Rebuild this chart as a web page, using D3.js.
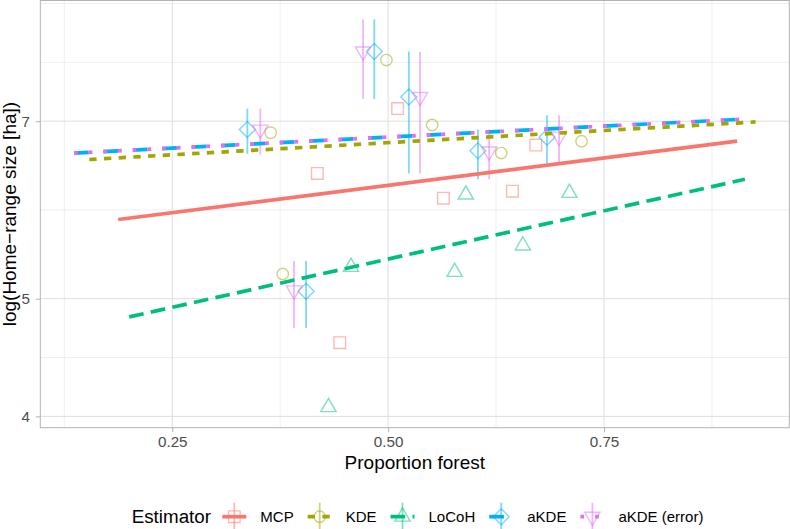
<!DOCTYPE html>
<html lang="en">
<head>
  <meta charset="UTF-8">
  <title>Home-range size vs proportion forest</title>
  <script src="https://d3js.org/d3.v7.min.js"></script>
  <style>
    body {
      margin: 0;
      padding: 0;
      background-color: #ffffff;
    }
    svg {
      display: block;
      font-family: "Liberation Sans", Arial, sans-serif;
    }
  </style>
</head>
<body>

  <svg id="chart" width="790" height="529"></svg>

  <script>
    // estimators, in legend order
    const estimators = ["MCP", "KDE", "LoCoH", "aKDE", "aKDE (error)"];
    const colors = ["#F8766D", "#A3A500", "#00BF7D", "#00B0F6", "#E76BF3"];
    const shapes = ["square", "circle", "triangleUp", "diamond", "triangleDown"];

    // points (proportion forest, home-range size)
    const mcpX = [0.418, 0.444, 0.511, 0.564, 0.644, 0.671];
    const mcpY = [6.34, 4.60, 7.17, 6.05, 6.13, 6.69];
    const kdeX = [0.364, 0.378, 0.498, 0.551, 0.631, 0.724];
    const kdeY = [6.85, 5.24, 7.86, 6.95, 6.59, 6.74];
    const locohX = [0.431, 0.457, 0.577, 0.590, 0.656, 0.710];
    const locohY = [4.07, 5.31, 5.26, 6.09, 5.53, 6.11];
    const akdeX = [0.337, 0.405, 0.484, 0.524, 0.604, 0.684];
    const akdeY = [6.89, 5.07, 7.99, 7.33, 6.62, 6.79];
    const akdeLo = [6.58, 4.73, 7.30, 6.34, 6.27, 6.46];
    const akdeHi = [7.17, 5.37, 8.49, 7.99, 6.89, 7.08];
    const akdeErrX = [0.352, 0.391, 0.471, 0.537, 0.617, 0.698];
    const akdeErrY = [6.89, 5.08, 7.99, 7.33, 6.61, 6.80];
    const akdeErrLo = [6.57, 4.73, 7.30, 6.34, 6.27, 6.48];
    const akdeErrHi = [7.17, 5.37, 8.49, 7.98, 6.89, 7.08];

    // fitted lines (start and end)
    const mcpFitX = [0.1875, 0.9042];
    const mcpFitY = [5.81, 6.74];
    const kdeFitX = [0.1539, 0.9255];
    const kdeFitY = [6.51, 6.99];
    const locohFitX = [0.2002, 0.9132];
    const locohFitY = [4.83, 6.27];
    const akdeFitX = [0.1362, 0.915];
    const akdeFitY = [6.59, 7.03];
    const akdeErrFitX = [0.1362, 0.915];
    const akdeErrFitY = [6.59, 7.03];

    // axis ticks
    const xTicks = [0.25, 0.5, 0.75];
    const yTicks = [4, 5, 7];

    const series = [
      { xs: mcpX, ys: mcpY, fx: mcpFitX, fy: mcpFitY },
      { xs: kdeX, ys: kdeY, fx: kdeFitX, fy: kdeFitY },
      { xs: locohX, ys: locohY, fx: locohFitX, fy: locohFitY },
      { xs: akdeX, ys: akdeY, lo: akdeLo, hi: akdeHi, fx: akdeFitX, fy: akdeFitY },
      { xs: akdeErrX, ys: akdeErrY, lo: akdeErrLo, hi: akdeErrHi, fx: akdeErrFitX, fy: akdeErrFitY }
    ].map((s, i) => Object.assign(s, { name: estimators[i], color: colors[i], shape: shapes[i] }));

    // line styles (ggplot linetypes solid, 22, 42, 44, 13)
    const lineWidth = 3.7;
    const u = 3.68;
    const dashes = [null, [2 * u, 2 * u], [4 * u, 2 * u], [4 * u, 4 * u], [u, 3 * u]].map(d => d && d.join(","));

    const panel = { left: 40.3, right: 789.3, top: 0.5, bottom: 427.7 };

    const x = d3.scaleLinear()
      .domain([0.0972, 0.9646])
      .range([panel.left, panel.right]);

    const y = d3.scaleLog()
      .domain([3.915, 8.80])
      .range([panel.bottom, panel.top]);

    const svg = d3.select("#chart");

    // minor breaks like ggplot: midpoints between majors, one step past the ends
    function minorBreaks(major, f, inv, dom) {
      const b = major.map(f);
      const bd = b[1] - b[0];
      const ext = [b[0] - bd].concat(b, [b[b.length - 1] + bd]);
      const out = [];
      for (let i = 0; i < ext.length - 1; i++) out.push((ext[i] + ext[i + 1]) / 2);
      out.push(ext[0], ext[ext.length - 1]);
      return out.map(inv).filter(v => v >= dom[0] && v <= dom[1]);
    }

    const xMinor = minorBreaks(xTicks, d => d, d => d, x.domain());
    const yMinor = minorBreaks(yTicks, Math.log, Math.exp, y.domain());

    const grid = svg.append("g");

    grid.selectAll(".xminor").data(xMinor).enter().append("line")
      .attr("x1", d => x(d)).attr("x2", d => x(d))
      .attr("y1", panel.top).attr("y2", panel.bottom)
      .attr("stroke", "#DEDEDE").attr("stroke-width", 0.5);

    grid.selectAll(".yminor").data(yMinor).enter().append("line")
      .attr("x1", panel.left).attr("x2", panel.right)
      .attr("y1", d => y(d)).attr("y2", d => y(d))
      .attr("stroke", "#DEDEDE").attr("stroke-width", 0.5);

    grid.selectAll(".xmajor").data(xTicks).enter().append("line")
      .attr("x1", d => x(d)).attr("x2", d => x(d))
      .attr("y1", panel.top).attr("y2", panel.bottom)
      .attr("stroke", "#DEDEDE").attr("stroke-width", 1);

    grid.selectAll(".ymajor").data(yTicks).enter().append("line")
      .attr("x1", panel.left).attr("x2", panel.right)
      .attr("y1", d => y(d)).attr("y2", d => y(d))
      .attr("stroke", "#DEDEDE").attr("stroke-width", 1);

    // point shapes (R pch 0, 1, 2, 5, 6)
    function shapePath(shape) {
      const p = d3.path();
      if (shape === "square") {
        p.rect(-5.8, -5.8, 11.6, 11.6);
      } else if (shape === "circle") {
        p.arc(0, 0, 5.7, 0, 2 * Math.PI);
      } else if (shape === "diamond") {
        const d = 8;
        p.moveTo(0, -d); p.lineTo(d, 0); p.lineTo(0, d); p.lineTo(-d, 0); p.closePath();
      } else {
        const r = 8.8, s = shape === "triangleUp" ? 1 : -1;
        p.moveTo(0, -r * s);
        p.lineTo(r * 0.866, r / 2 * s);
        p.lineTo(-r * 0.866, r / 2 * s);
        p.closePath();
      }
      return p.toString();
    }

    // points
    series.forEach(s => {
      svg.append("g").selectAll("path")
        .data(s.xs.map((v, i) => [v, s.ys[i]]))
        .enter().append("path")
        .attr("d", shapePath(s.shape))
        .attr("transform", d => `translate(${x(d[0])},${y(d[1])})`)
        .attr("fill", "none")
        .attr("stroke", s.color)
        .attr("stroke-opacity", 0.5)
        .attr("stroke-width", 1.4);
    });

    // error bars
    series.filter(s => s.lo).forEach(s => {
      svg.append("g").selectAll("line")
        .data(s.xs.map((v, i) => [v, s.lo[i], s.hi[i]]))
        .enter().append("line")
        .attr("x1", d => x(d[0])).attr("x2", d => x(d[0]))
        .attr("y1", d => y(d[1])).attr("y2", d => y(d[2]))
        .attr("stroke", s.color)
        .attr("stroke-opacity", 0.5)
        .attr("stroke-width", 1.8);
    });

    // fitted lines
    const line = d3.line().x(d => x(d[0])).y(d => y(d[1]));
    series.forEach((s, i) => {
      svg.append("path")
        .datum(s.fx.map((v, j) => [v, s.fy[j]]))
        .attr("d", line)
        .attr("fill", "none")
        .attr("stroke", s.color)
        .attr("stroke-width", lineWidth)
        .attr("stroke-dasharray", dashes[i]);
    });

    // panel border
    svg.append("rect")
      .attr("x", panel.left).attr("y", panel.top)
      .attr("width", panel.right - panel.left)
      .attr("height", panel.bottom - panel.top)
      .attr("fill", "none")
      .attr("stroke", "#B3B3B3")
      .attr("stroke-width", 1);

    // axes
    const yAxis = svg.append("g")
      .attr("transform", `translate(${panel.left},0)`)
      .call(d3.axisLeft(y).tickValues(yTicks).tickFormat(d3.format("d")).tickSize(4.5).tickPadding(5.8));

    const xAxis = svg.append("g")
      .attr("transform", `translate(0,${panel.bottom})`)
      .call(d3.axisBottom(x).tickValues(xTicks).tickFormat(d3.format(".2f")).tickSize(4.5).tickPadding(4));

    [xAxis, yAxis].forEach(a => {
      a.select(".domain").remove();
      a.selectAll(".tick line").attr("stroke", "#B3B3B3");
      a.selectAll(".tick text")
        .attr("fill", "#4D4D4D")
        .style("font-size", "15.2px")
        .style("font-family", "'Liberation Sans', Arial, sans-serif");
    });

    // axis titles
    svg.append("text")
      .attr("x", (panel.left + panel.right) / 2)
      .attr("y", 469)
      .attr("text-anchor", "middle")
      .style("font-size", "19px")
      .text("Proportion forest");

    svg.append("text")
      .attr("transform", `translate(15.5,${(panel.top + panel.bottom) / 2}) rotate(-90)`)
      .attr("text-anchor", "middle")
      .style("font-size", "19px")
      .text("log(Home\u2212range size [ha])");

    // legend
    const legend = svg.append("g");
    const keyY = 516.7;

    const title = legend.append("text")
      .attr("x", 131.7)
      .attr("y", 523)
      .style("font-size", "18.8px")
      .text("Estimator");

    let keyX = 131.7 + title.node().getComputedTextLength() + 23.3;

    series.forEach((s, i) => {
      const key = legend.append("g").attr("transform", `translate(${keyX},${keyY})`);

      key.append("path")
        .attr("d", shapePath(s.shape))
        .attr("fill", "none")
        .attr("stroke", s.color)
        .attr("stroke-opacity", 0.5)
        .attr("stroke-width", 1.4);

      key.append("line")
        .attr("x1", 0).attr("x2", 0)
        .attr("y1", -14).attr("y2", 14)
        .attr("stroke", s.color)
        .attr("stroke-opacity", 0.5)
        .attr("stroke-width", 1.8);

      key.append("line")
        .attr("x1", -12).attr("x2", 12)
        .attr("y1", 0).attr("y2", 0)
        .attr("stroke", s.color)
        .attr("stroke-width", lineWidth)
        .attr("stroke-dasharray", dashes[i]);

      const label = legend.append("text")
        .attr("x", keyX + 26)
        .attr("y", 521.7)
        .style("font-size", "15px")
        .text(s.name);

      keyX = keyX + 26 + label.node().getComputedTextLength() + 26;
    });
  </script>

</body>
</html>
